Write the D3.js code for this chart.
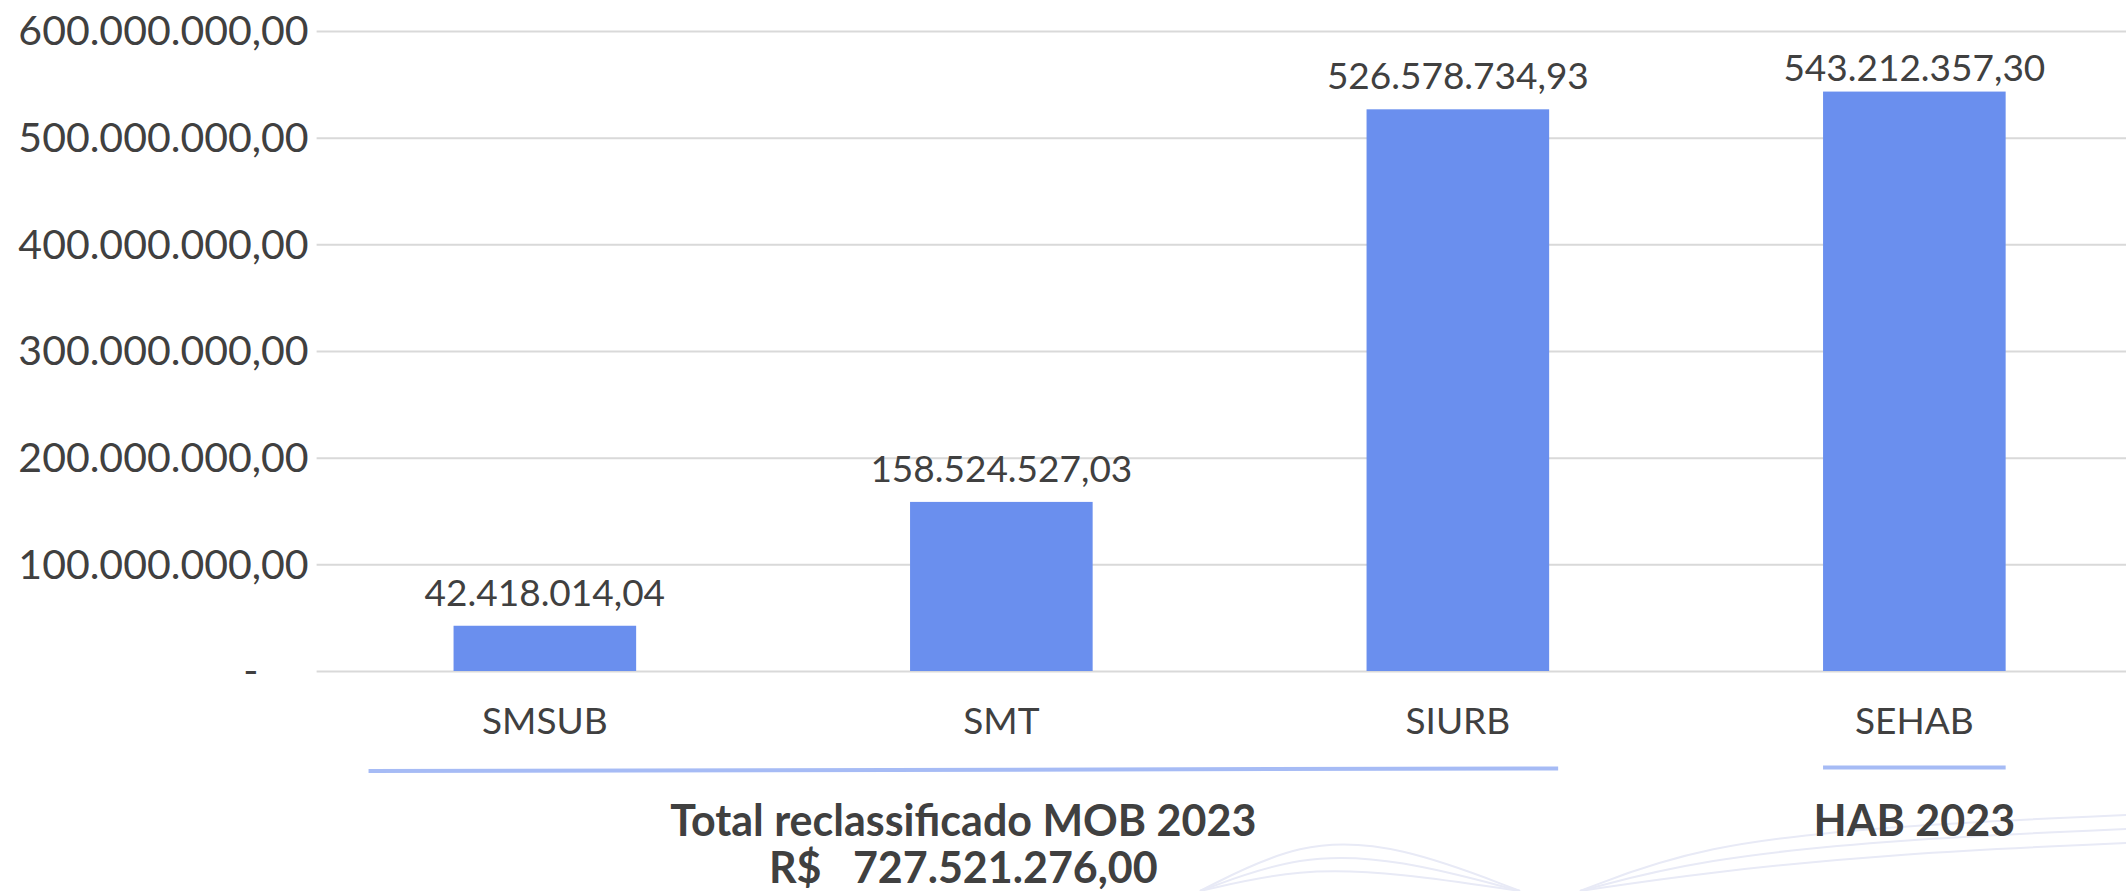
<!DOCTYPE html>
<html>
<head>
<meta charset="utf-8">
<script src="https://cdn.jsdelivr.net/npm/d3@7"></script>
<style>
  body { margin: 0; background: #fff; }
  text { font-family: Lato, "Open Sans", sans-serif; fill: #404040; }
</style>
</head>
<body>
<script>
const width = 2126;
const height = 891;

// data
const categories = ["SMSUB", "SMT", "SIURB", "SEHAB"];
const values = [42418014.04, 158524527.03, 526578734.93, 543212357.30];
const yTicks = [0, 100e6, 200e6, 300e6, 400e6, 500e6, 600e6];
const groupLabels = [["Total reclassificado MOB 2023", "R$   727.521.276,00"], ["HAB 2023"]];
const groupFrom = ["SMSUB", "SEHAB"];
const groupTo = ["SIURB", "SEHAB"];

const data = categories.map((c, i) => ({ cat: c, value: values[i] }));

const br = d3.formatLocale({ decimal: ",", thousands: ".", grouping: [3], currency: ["R$", ""] });
const fmt = br.format(",.2f");

let svg = d3.select("body")
    .append("svg")
    .attr("width", width)
    .attr("height", height);

// faint background swirls (decoration only)
const swirl = d3.line().curve(d3.curveBasis);
const deco = svg.append("g").attr("fill", "none").attr("stroke", "#e8eaf6").attr("stroke-width", 2);
[0, 14, 28].forEach(o => {
    deco.append("path").attr("d", swirl([[1200, 891], [1300, 840 + o], [1400, 845 + o], [1520, 891]]));
    deco.append("path").attr("d", swirl([[1580, 891], [1700, 845 + o], [1900, 825 + o], [2126, 815 + o]]));
});

let xScale = d3.scaleBand()
    .domain(categories)
    .range([316.6, 2142.6])
    .paddingInner(0.6)
    .paddingOuter(0.3);

let yScale = d3.scaleLinear()
    .domain([0, 600e6])
    .range([671, 31]);

// grid + y labels
let yAxis = svg.append("g")
    .attr("transform", "translate(316.6,0)")
    .call(d3.axisLeft(yScale)
        .tickValues(yTicks)
        .tickSize(-(width - 316.6))
        .tickPadding(8)
        .tickFormat(d => d === 0 ? "-" : fmt(d)));

yAxis.select(".domain").remove();
yAxis.selectAll(".tick line")
    .attr("stroke", "#d9d9d9")
    .attr("stroke-width", 2);
yAxis.selectAll(".tick text")
    .style("font-size", "41px")
    .attr("dy", "0.34em")
    .attr("dx", d => d === 0 ? -50 : 0);

// bars
svg.selectAll(".bar")
    .data(data)
    .enter()
    .append("rect")
    .attr("class", "bar")
    .attr("x", d => xScale(d.cat))
    .attr("y", d => yScale(d.value))
    .attr("width", xScale.bandwidth())
    .attr("height", d => yScale(0) - yScale(d.value))
    .attr("fill", "#6a8fee");

// value labels
svg.selectAll(".val")
    .data(data)
    .enter()
    .append("text")
    .attr("class", "val")
    .attr("text-anchor", "middle")
    .attr("x", d => xScale(d.cat) + xScale.bandwidth() / 2)
    .attr("y", d => Math.max(yScale(d.value) - 20, 81))
    .style("font-size", "37px")
    .text(d => fmt(d.value));

// category labels
svg.selectAll(".cat")
    .data(categories)
    .enter()
    .append("text")
    .attr("class", "cat")
    .attr("text-anchor", "middle")
    .attr("x", d => xScale(d) + xScale.bandwidth() / 2)
    .attr("y", 734)
    .style("font-size", "37px")
    .text(d => d);

// group brackets
groupLabels.forEach((lines, i) => {
    let x1 = xScale(groupFrom[i]);
    let x2 = xScale(groupTo[i]) + xScale.bandwidth();
    let y1 = 767.5, y2 = 767.5;
    if (i === 0) {
        x1 -= 85; x2 += 9;
        y1 = 771; y2 = 768.5;
    }
    svg.append("line")
        .attr("x1", x1).attr("x2", x2)
        .attr("y1", y1).attr("y2", y2)
        .attr("stroke", "#a6bbf5")
        .attr("stroke-width", 4);

    let t = svg.append("text")
        .attr("text-anchor", "middle")
        .attr("x", (x1 + x2) / 2)
        .attr("y", 836)
        .style("font-size", "43px")
        .style("font-weight", "bold");
    lines.forEach((l, j) => {
        t.append("tspan")
            .attr("x", (x1 + x2) / 2)
            .attr("dy", j === 0 ? 0 : 47)
            .style("white-space", "pre")
            .text(l);
    });
});
</script>
</body>
</html>
